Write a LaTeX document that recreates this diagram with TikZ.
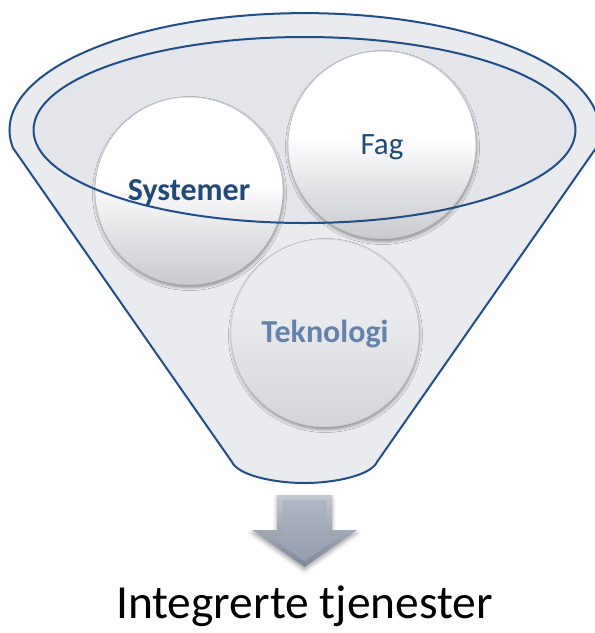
\documentclass[tikz,border=0pt]{standalone}
\usepackage{fontspec}
\setmainfont{Carlito}
\usetikzlibrary{shadows.blur}

\definecolor{rim}{HTML}{1F4E8A}
\definecolor{funnelfill}{HTML}{E9EBEF}
\definecolor{bowlfill}{HTML}{E3E5EA}
\definecolor{labelblue}{HTML}{1F497D}
\definecolor{labelpale}{HTML}{6383AD}
\definecolor{ballbot}{HTML}{CACBCF}
\definecolor{ballmid}{HTML}{E0E1E4}
\definecolor{ballline}{HTML}{B4B5B9}
\definecolor{palebot}{HTML}{D3D4D8}
\definecolor{paletop}{HTML}{EAEBEE}
\definecolor{arrowtop}{HTML}{C3C8D1}
\definecolor{arrowbot}{HTML}{7E8799}
\definecolor{facetop}{HTML}{AFB6C3}
\definecolor{facebot}{HTML}{959EAF}

% glossy button: white upper half, grey towards the bottom
\pgfdeclareverticalshading{ballshade}{100bp}{color(0bp)=(ballbot); color(25bp)=(ballbot); color(38bp)=(ballmid); color(52bp)=(white); color(100bp)=(white)}
\pgfdeclareverticalshading{paleballshade}{100bp}{color(0bp)=(palebot); color(25bp)=(palebot); color(55bp)=(paletop); color(100bp)=(paletop)}

\tikzset{
  ball/.style={circle, minimum size=188pt, inner sep=0pt,
    shading=ballshade, shade, draw=ballline, line width=0.5pt,
    blur shadow={shadow xshift=0.5pt, shadow yshift=-2.5pt,
                 shadow blur radius=3pt, shadow opacity=40},
    font=\fontsize{31}{37}\selectfont, text=labelblue,
    text height=24pt, text depth=6pt},
  paleball/.style={ball, shading=paleballshade, draw=ballline!70},
  rimline/.style={draw=rim, line width=2pt, line join=round},
}

\begin{document}
\begin{tikzpicture}[x=1pt, y=1pt]
  \useasboundingbox (0,0) rectangle (595,-633);

  % funnel body: elliptical mouth, straight sides, rounded spout
  \path[fill=funnelfill, rimline]
    (13,-148) arc[start angle=188.8, end angle=-8.8, x radius=295, y radius=117]
    -- (377,-462) .. controls (371,-475) and (336,-483) .. (304.5,-483)
    .. controls (273,-483) and (238,-475) .. (232,-462) -- cycle;

  % inner opening of the funnel
  \fill[bowlfill] (304.5,-130) ellipse[x radius=271, y radius=93];

  % the three ingredients
  \node[ball, font=\fontsize{32}{38}\selectfont\bfseries] (sys) at (189,-191) {Systemer};
  \node[ball] (fag) at (382,-145) {Fag};
  \node[paleball, text=labelpale, font=\fontsize{32}{38}\selectfont\bfseries] (tek) at (325,-333) {Teknologi};

  % rim of the opening lies over the balls
  \draw[rimline] (304.5,-130) ellipse[x radius=271, y radius=93];

  % bevelled down arrow
  \path[top color=arrowtop, bottom color=arrowbot,
        blur shadow={shadow xshift=0pt, shadow yshift=-3pt,
                     shadow blur radius=4pt, shadow opacity=35}]
    (277,-495) -- (332,-495) -- (332,-530) -- (357,-530) -- (304.5,-567)
    -- (252,-530) -- (277,-530) -- cycle;
  \path[top color=facetop, bottom color=facebot]
    (282.5,-500) -- (326.5,-500) -- (326.5,-535.5) -- (341,-535.5)
    -- (304.5,-561) -- (268,-535.5) -- (282.5,-535.5) -- cycle;

  \node[font=\fontsize{47.5}{57}\selectfont, anchor=base, inner sep=0pt]
    (result) at (304.5,-618) {Integrerte tjenester};
\end{tikzpicture}
\end{document}
